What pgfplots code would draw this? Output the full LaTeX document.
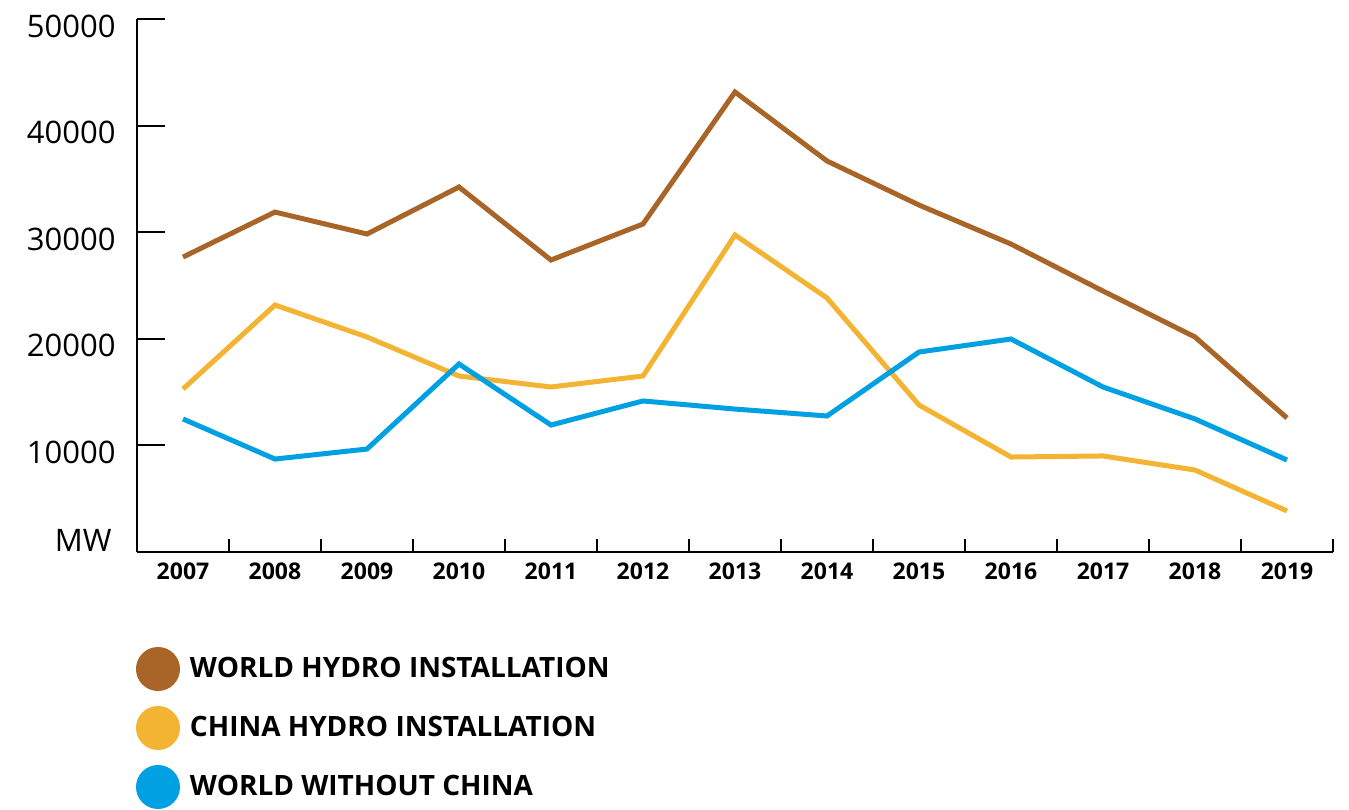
\documentclass[border=0pt]{standalone}
\usepackage{pgfplots}
\pgfplotsset{compat=1.18}
\usepackage{fontspec}
\setmainfont{Open Sans}
\newcommand\medfont{\bfseries}
\definecolor{worldc}{RGB}{169,100,40}
\definecolor{chinac}{RGB}{243,180,51}
\definecolor{restc}{RGB}{0,160,227}
\begin{document}
\begin{tikzpicture}
\begin{axis}[
  at={(0,0)}, anchor=south west,
  scale only axis, width=598pt, height=266.5pt,
  xmin=2006.5, xmax=2019.5, ymin=0, ymax=50000,
  axis x line*=bottom, axis y line*=left,
  axis line style={line width=1pt, black},
  every tick/.style={line width=1pt, black},
  tick align=inside,
  xtick={2006.5,2007.5,...,2019.5},
  xticklabels={},
  x tick style={/pgfplots/major tick length=6.5pt},
  extra x ticks={2007,2008,...,2019},
  extra x tick labels={2007,2008,2009,2010,2011,2012,2013,2014,2015,2016,2017,2018,2019},
  extra x tick style={major tick length=0pt, tick style={draw=none}},
  xticklabel style={font=\medfont\fontsize{11.5}{14}\selectfont, inner sep=0pt, yshift=-5pt},
  ytick={0,10000,20000,30000,40000,50000},
  yticklabels={,10000,20000,30000,40000,50000},
  major tick length=14pt,
  yticklabel style={font=\fontsize{15.5}{18}\selectfont, inner sep=0pt, xshift=-10.5pt, yshift=-3.5pt},
  extra y ticks={1700},
  extra y tick labels={MW},
  extra y tick style={major tick length=0pt, tick style={draw=none}, yticklabel style={xshift=-2pt}},
  scaled y ticks=false,
  clip=false,
  legend style={at={(rel axis cs:0,0)}, anchor=north west, yshift=-47.5pt, xshift=-0.5pt,
    draw=none, fill=none, inner sep=0pt, outer sep=0pt,
    font=\medfont\fontsize{14}{17}\selectfont,
    row sep=7.5pt,
    nodes={inner sep=0pt}},
  legend cell align=left,
  legend image code/.code={\fill[#1] (9.75pt,0pt) circle (9.75pt); \path (24.5pt,0pt);},
  every axis plot/.append style={line width=2.5pt},
]
\addplot[color=worldc] coordinates {
(2007,27670) (2008,31890) (2009,29830) (2010,34240) (2011,27390) (2012,30770)
(2013,43150) (2014,36680) (2015,32550) (2016,28890) (2017,24480) (2018,20170) (2019,12570)};
\addlegendentry{WORLD HYDRO INSTALLATION}
\addplot[color=chinac] coordinates {
(2007,15290) (2008,23170) (2009,20170) (2010,16510) (2011,15480) (2012,16510)
(2013,29740) (2014,23830) (2015,13790) (2016,8910) (2017,9010) (2018,7690) (2019,3850)};
\addlegendentry{CHINA HYDRO INSTALLATION}
\addplot[color=restc] coordinates {
(2007,12480) (2008,8720) (2009,9660) (2010,17640) (2011,11910) (2012,14170)
(2013,13410) (2014,12760) (2015,18760) (2016,19980) (2017,15480) (2018,12480) (2019,8630)};
\addlegendentry{WORLD WITHOUT CHINA}
\end{axis}
\path[use as bounding box] (-68.5pt,-127pt) rectangle (606pt,276pt);
\end{tikzpicture}
\end{document}
